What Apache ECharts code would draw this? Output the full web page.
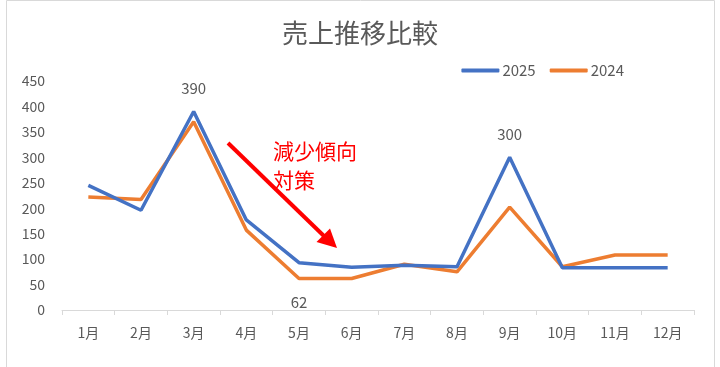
<!DOCTYPE html>
<html><head><meta charset="utf-8">
<script src="https://cdn.jsdelivr.net/npm/echarts@6/dist/echarts.min.js"></script>
<style>html,body{margin:0;padding:0;background:#fff}#c{width:720px;height:367px}</style>
</head><body><div id="c"></div>
<script>
const categories = ['1月','2月','3月','4月','5月','6月','7月','8月','9月','10月','11月','12月'];
const sales2025 = [245,196,390,177,93,84,88,85,300,83,83,83];
const sales2024 = [222,217,370,157,62,62,90,75,202,85,108,108];
const labeled2025 = [2, 8];   // indices with value labels (above)
const labeled2024 = [4];      // indices with value labels (below)
const yTicks = [0,50,100,150,200,250,300,350,400,450];

const font = '"Noto Sans CJK JP", "Noto Sans", sans-serif';
function mk(vals, idxs, pos){
  return vals.map((v,i)=> idxs.includes(i) ? {value:v, label:{show:true, position:pos, distance:16, color:'#595959', fontSize:15, fontFamily:font}} : v);
}
const chart = echarts.init(document.getElementById('c'), null, {renderer:'canvas'});
chart.setOption({
  animation:false,
  title:{text:'売上推移比較', left:'center', top:15, textStyle:{color:'#595959', fontSize:26, fontWeight:'normal', fontFamily:font}},
  legend:{right:91, top:58, itemWidth:38, itemHeight:4, itemGap:14, icon:'roundRect',
    textStyle:{color:'#595959', fontSize:15, fontFamily:font, padding:[0,0,0,-2]},
    data:['2025','2024']},
  grid:{left:62, right:26, top:81, bottom:57},
  xAxis:{type:'category', data:categories, boundaryGap:true,
    axisLine:{lineStyle:{color:'#d9d9d9', width:1}},
    axisTick:{show:true, length:5, lineStyle:{color:'#d9d9d9'}},
    axisLabel:{color:'#595959', fontSize:14, margin:16, fontFamily:font}},
  yAxis:{type:'value', min:0, max:450, interval:50,
    axisLine:{show:false}, axisTick:{show:false}, splitLine:{show:false},
    axisLabel:{color:'#595959', fontSize:14, margin:17, fontFamily:font}},
  series:[
    {name:'2025', type:'line', data:mk(sales2025, labeled2025, 'top'), symbol:'circle', symbolSize:0, showSymbol:true, z:3,
      lineStyle:{color:'#4472C4', width:3.5}, itemStyle:{color:'#4472C4'}},
    {name:'2024', type:'line', data:mk(sales2024, labeled2024, 'bottom'), symbol:'circle', symbolSize:0, showSymbol:true, z:2,
      lineStyle:{color:'#ED7D31', width:3.5}, itemStyle:{color:'#ED7D31'}}
  ],
  graphic:[
    {type:'rect', shape:{x:6.5, y:0.5, width:708, height:380}, style:{fill:'none', stroke:'#d9d9d9', lineWidth:1}, silent:true},
    {type:'line', shape:{x1:228, y1:143, x2:325, y2:237}, style:{stroke:'#FF0000', lineWidth:4}},
    {type:'polygon', shape:{points:[[337,248],[316.5,242],[330,228.5]]}, style:{fill:'#FF0000'}},
    {type:'text', left:273, top:137, style:{text:'減少傾向\n対策', fill:'#FF0000', fontSize:21, lineHeight:29, fontFamily:font}}
  ]
});
</script></body></html>
